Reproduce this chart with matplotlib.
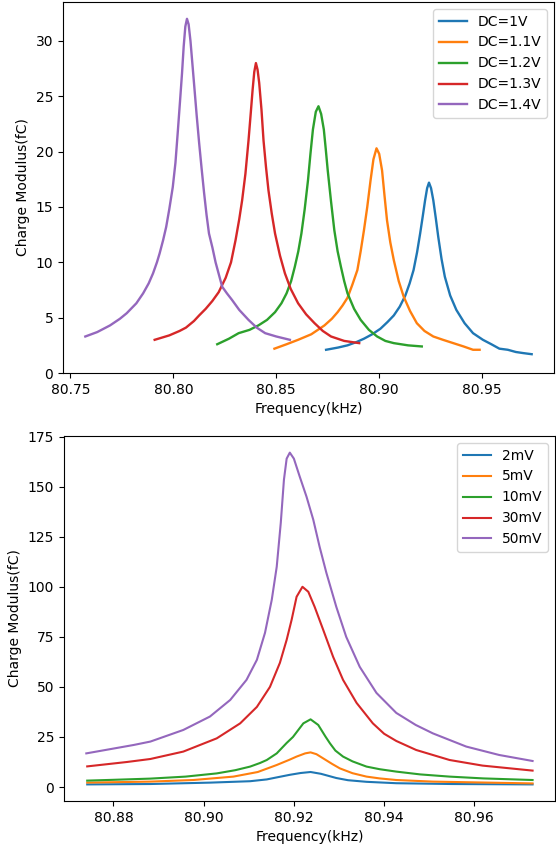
import matplotlib
matplotlib.use("Agg")
import matplotlib.pyplot as plt

# ---- top panel: sweeps at different DC bias
dc_labels = ["DC=1V", "DC=1.1V", "DC=1.2V", "DC=1.3V", "DC=1.4V"]

f_dc10 = [80.8742, 80.8800, 80.8846, 80.8890, 80.8926, 80.8966, 80.9006, 80.9040, 80.9071,
          80.9100, 80.9127, 80.9148, 80.9167, 80.9184, 80.9199, 80.9212, 80.9223, 80.9233,
          80.9242, 80.9252, 80.9263, 80.9275, 80.9287, 80.9303, 80.9319, 80.9345, 80.9375,
          80.9415, 80.9456, 80.9504, 80.9545, 80.9584, 80.9625, 80.9664, 80.9700, 80.9741]
q_dc10 = [2.1, 2.3, 2.5, 2.8, 3.1, 3.5, 4.0, 4.6, 5.2, 6.0, 7.0, 8.1, 9.3, 10.9, 12.6, 14.2,
          15.6, 16.7, 17.2, 16.7, 15.6, 14.0, 12.3, 10.3, 8.7, 7.0, 5.7, 4.5, 3.6, 3.0, 2.6,
          2.2, 2.1, 1.9, 1.8, 1.7]

f_dc11 = [80.8491, 80.8550, 80.8606, 80.8670, 80.8734, 80.8770, 80.8798, 80.8822, 80.8846,
          80.8870, 80.8894, 80.8910, 80.8926, 80.8942, 80.8958, 80.8972, 80.8987, 80.9000,
          80.9014, 80.9026, 80.9038, 80.9054, 80.9071, 80.9095, 80.9119, 80.9150, 80.9183,
          80.9220, 80.9263, 80.9310, 80.9360, 80.9410, 80.9456, 80.9488]
q_dc11 = [2.2, 2.6, 3.0, 3.5, 4.3, 4.9, 5.5, 6.1, 6.8, 8.0, 9.3, 11.0, 12.9, 15.0, 17.4,
          19.3, 20.3, 19.8, 18.3, 16.0, 13.8, 11.8, 10.2, 8.3, 6.9, 5.6, 4.5, 3.8, 3.3, 3.0,
          2.7, 2.4, 2.1, 2.1]

f_dc12 = [80.8213, 80.8270, 80.8317, 80.8370, 80.8413, 80.8455, 80.8494, 80.8525, 80.8550,
          80.8572, 80.8590, 80.8607, 80.8622, 80.8638, 80.8654, 80.8666, 80.8678, 80.8692,
          80.8705, 80.8718, 80.8731, 80.8740, 80.8750, 80.8766, 80.8782, 80.8798, 80.8814,
          80.8830, 80.8846, 80.8878, 80.8910, 80.8950, 80.8990, 80.9030, 80.9071, 80.9140,
          80.9207]
q_dc12 = [2.6, 3.1, 3.6, 3.9, 4.3, 4.8, 5.5, 6.3, 7.2, 8.3, 9.6, 11.0, 12.6, 14.8, 17.4,
          19.8, 22.0, 23.6, 24.1, 23.4, 22.0, 20.3, 18.3, 15.5, 12.9, 11.0, 9.6, 8.3, 7.2,
          5.8, 4.8, 3.9, 3.3, 2.9, 2.7, 2.5, 2.4]

f_dc13 = [80.7909, 80.7980, 80.8030, 80.8061, 80.8100, 80.8125, 80.8157, 80.8189, 80.8220,
          80.8254, 80.8280, 80.8302, 80.8320, 80.8334, 80.8350, 80.8365, 80.8376, 80.8385,
          80.8393, 80.8401, 80.8409, 80.8417, 80.8428, 80.8438, 80.8450, 80.8462, 80.8478,
          80.8494, 80.8518, 80.8542, 80.8570, 80.8606, 80.8645, 80.8686, 80.8726, 80.8766,
          80.8830, 80.8903]
q_dc13 = [3.0, 3.4, 3.8, 4.1, 4.7, 5.2, 5.8, 6.5, 7.3, 8.6, 10.0, 12.0, 13.9, 15.6, 18.0,
          21.0, 23.5, 25.6, 27.2, 28.0, 27.4, 26.2, 23.8, 21.0, 18.6, 16.5, 14.4, 12.6, 10.6,
          9.0, 7.6, 6.3, 5.3, 4.5, 3.8, 3.3, 2.9, 2.7]

f_dc14 = [80.7572, 80.7630, 80.7692, 80.7740, 80.7773, 80.7820, 80.7853, 80.7880, 80.7901,
          80.7920, 80.7933, 80.7950, 80.7965, 80.7980, 80.7997, 80.8010, 80.8021, 80.8032,
          80.8042, 80.8050, 80.8058, 80.8066, 80.8074, 80.8083, 80.8092, 80.8101, 80.8113,
          80.8125, 80.8137, 80.8149, 80.8161, 80.8173, 80.8190, 80.8205, 80.8237, 80.8260,
          80.8285, 80.8320, 80.8365, 80.8405, 80.8446, 80.8500, 80.8566]
q_dc14 = [3.3, 3.7, 4.3, 4.9, 5.4, 6.3, 7.2, 8.1, 9.0, 10.0, 10.8, 12.0, 13.2, 14.8, 16.8,
          19.0, 21.7, 24.5, 27.1, 29.5, 31.3, 32.0, 31.5, 30.0, 28.0, 26.0, 23.3, 20.8, 18.5,
          16.3, 14.3, 12.6, 11.3, 10.0, 7.8, 7.2, 6.6, 5.7, 4.8, 4.1, 3.6, 3.3, 3.0]

# ---- bottom panel: sweeps at different drive amplitude
amp_labels = ["2mV", "5mV", "10mV", "30mV", "50mV"]

f_2mv = [80.8742, 80.8882, 80.9015, 80.9103, 80.9140, 80.9162, 80.9191, 80.9215, 80.9237,
         80.9260, 80.9294, 80.9320, 80.9361, 80.9427, 80.9550, 80.9729]
q_2mv = [1.3, 1.5, 2.2, 2.9, 3.8, 4.8, 6.1, 7.0, 7.5, 6.6, 4.5, 3.4, 2.6, 1.9, 1.5, 1.3]

f_5mv = [80.8742, 80.8882, 80.8977, 80.9066, 80.9120, 80.9162, 80.9190, 80.9206, 80.9225,
         80.9237, 80.9250, 80.9265, 80.9285, 80.9302, 80.9330, 80.9361, 80.9390, 80.9427,
         80.9508, 80.9729]
q_5mv = [2.2, 2.7, 3.5, 5.2, 7.5, 11.0, 13.6, 15.2, 16.8, 17.3, 16.4, 14.3, 11.5, 9.3, 6.9,
         5.2, 4.3, 3.5, 2.7, 1.8]

f_10mv = [80.8742, 80.8800, 80.8882, 80.8960, 80.9029, 80.9070, 80.9103, 80.9125, 80.9140,
          80.9162, 80.9184, 80.9198, 80.9221, 80.9237, 80.9254, 80.9270, 80.9280, 80.9292,
          80.9309, 80.9330, 80.9361, 80.9390, 80.9427, 80.9480, 80.9545, 80.9620, 80.9729]
q_10mv = [3.2, 3.6, 4.2, 5.2, 6.8, 8.4, 10.2, 12.0, 13.5, 16.8, 22.0, 25.0, 31.8, 33.8,
          31.0, 25.2, 21.8, 18.2, 15.2, 12.8, 10.2, 8.9, 7.7, 6.3, 5.2, 4.3, 3.5]

f_30mv = [80.8742, 80.8830, 80.8882, 80.8955, 80.9029, 80.9081, 80.9118, 80.9147, 80.9169,
          80.9184, 80.9195, 80.9206, 80.9219, 80.9232, 80.9246, 80.9265, 80.9287, 80.9309,
          80.9339, 80.9375, 80.9400, 80.9427, 80.9471, 80.9545, 80.9618, 80.9729]
q_30mv = [10.3, 12.5, 14.0, 17.7, 24.3, 31.8, 40.0, 50.0, 62.0, 73.5, 83.5, 95.0, 100.0,
          97.5, 90.0, 78.5, 65.0, 53.5, 42.0, 31.8, 26.6, 23.0, 18.5, 13.5, 10.7, 8.2]

f_50mv = [80.8740, 80.8845, 80.8882, 80.8955, 80.9014, 80.9059, 80.9095, 80.9118, 80.9136,
          80.9151, 80.9162, 80.9171, 80.9178, 80.9184, 80.9191, 80.9200, 80.9213, 80.9228,
          80.9243, 80.9257, 80.9272, 80.9294, 80.9316, 80.9346, 80.9383, 80.9427, 80.9470,
          80.9508, 80.9582, 80.9655, 80.9729]
q_50mv = [16.8, 21.0, 22.7, 28.5, 35.2, 43.5, 53.5, 63.5, 77.0, 93.5, 110.0, 132.0, 153.5,
          164.0, 167.0, 164.0, 155.0, 145.0, 133.5, 120.0, 107.0, 90.0, 75.0, 60.0, 47.0,
          37.0, 31.0, 26.8, 20.2, 16.0, 13.0]

colors = ["tab:blue", "tab:orange", "tab:green", "tab:red", "tab:purple"]

fig = plt.figure(figsize=(5.56, 8.47), dpi=100)

ax1 = fig.add_axes([0.1133, 0.5596, 0.8831, 0.4380])
top_f = [f_dc10, f_dc11, f_dc12, f_dc13, f_dc14]
top_q = [q_dc10, q_dc11, q_dc12, q_dc13, q_dc14]
for f, q, lab, c in zip(top_f, top_q, dc_labels, colors):
    ax1.plot(f, q, color=c, lw=1.7, label=lab)
ax1.set_xticks([80.75, 80.80, 80.85, 80.90, 80.95])
ax1.set_yticks([0, 5, 10, 15, 20, 25, 30])
ax1.ticklabel_format(axis="x", useOffset=False)
ax1.set_xlabel("Frequency(kHz)")
ax1.set_ylabel("Charge Modulus(fC)")
ax1.legend(loc="upper right")

ax2 = fig.add_axes([0.1151, 0.0543, 0.8829, 0.4309])
bot_f = [f_2mv, f_5mv, f_10mv, f_30mv, f_50mv]
bot_q = [q_2mv, q_5mv, q_10mv, q_30mv, q_50mv]
for f, q, lab, c in zip(bot_f, bot_q, amp_labels, colors):
    ax2.plot(f, q, color=c, lw=1.5, label=lab)
ax2.set_xticks([80.88, 80.90, 80.92, 80.94, 80.96])
ax2.set_yticks([0, 25, 50, 75, 100, 125, 150, 175])
ax2.ticklabel_format(axis="x", useOffset=False)
ax2.set_xlabel("Frequency(kHz)")
ax2.set_ylabel("Charge Modulus(fC)")
ax2.legend(loc="upper right")

fig.savefig("out.png", dpi=100)
